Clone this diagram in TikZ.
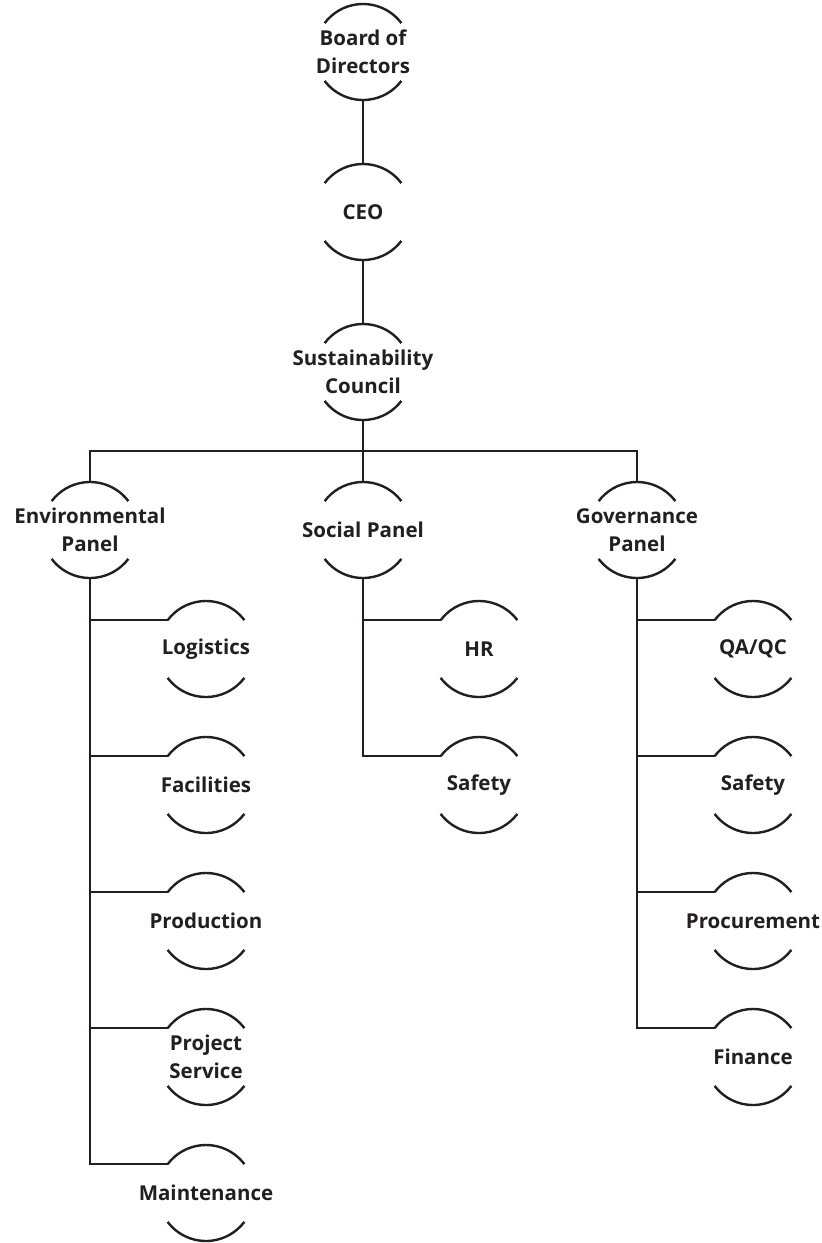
\documentclass[tikz,border=0pt]{standalone}
\usepackage{fontspec}
\setmainfont{Open Sans}
\usetikzlibrary{calc}
\definecolor{ink}{HTML}{231F20}
\begin{document}
\begin{tikzpicture}[x=1pt,y=1pt,
  unit/.style={inner sep=0pt,outer sep=0pt,
    text=ink,align=center,font=\fontsize{20.5}{28}\selectfont\bfseries},
  link/.style={draw=ink,line width=2.6pt},
  rim/.style={draw=ink,line width=2.4pt}]
\useasboundingbox (0,0) rectangle (822,-1243);
% top chain
\node[unit] (board) at (363,-52) {Board of\\Directors};
\node[unit] (ceo) at (363,-212) {CEO};
\node[unit] (sust) at (363,-372) {Sustainability\\Council};
% panels
\node[unit] (env) at (90,-530) {Environmental\\Panel};
\node[unit] (soc) at (363,-530) {Social Panel};
\node[unit] (gov) at (637,-530) {Governance\\Panel};
% environmental children
\node[unit] (logi) at (206,-649) {Logistics};
\node[unit] (faci) at (206,-785) {Facilities};
\node[unit] (prod) at (206,-921) {Production};
\node[unit] (proj) at (206,-1057) {Project\\Service};
\node[unit] (main) at (206,-1193) {Maintenance};
% social children
\node[unit] (hr) at (479,-649) {HR};
\node[unit] (ssaf) at (479,-785) {Safety};
% governance children
\node[unit] (qa) at (753,-649) {QA/QC};
\node[unit] (gsaf) at (753,-785) {Safety};
\node[unit] (proc) at (753,-921) {Procurement};
\node[unit] (fin) at (753,-1057) {Finance};
% arcs (radius 48 round each centre)
\foreach \n in {board,ceo,sust,env,soc,gov,logi,faci,prod,proj,main,hr,ssaf,qa,gsaf,proc,fin}{
  \coordinate (\n-top) at ([yshift=48pt]\n.center);
  \coordinate (\n-bot) at ([yshift=-48pt]\n.center);
  \coordinate (\n-in) at ([shift={(143:48pt)}]\n.center);
  \draw[rim] ([shift={(37:48pt)}]\n.center) arc (37:143:48pt);
  \draw[rim] ([shift={(217:48pt)}]\n.center) arc (217:323:48pt);
}
% connectors
\draw[link] (board-bot) -- (ceo-top);
\draw[link] (ceo-bot) -- (sust-top);
\draw[link] (sust-bot) -- (soc-top);
\coordinate (bus) at ($(sust-bot)!0.5!(soc-top)$);
\draw[link] (env-top) |- (bus) -| (gov-top);
\foreach \c in {logi,faci,prod,proj,main}{\draw[link] (env-bot) |- (\c-in);}
\foreach \c in {hr,ssaf}{\draw[link] (soc-bot) |- (\c-in);}
\foreach \c in {qa,gsaf,proc,fin}{\draw[link] (gov-bot) |- (\c-in);}
\end{tikzpicture}
\end{document}
